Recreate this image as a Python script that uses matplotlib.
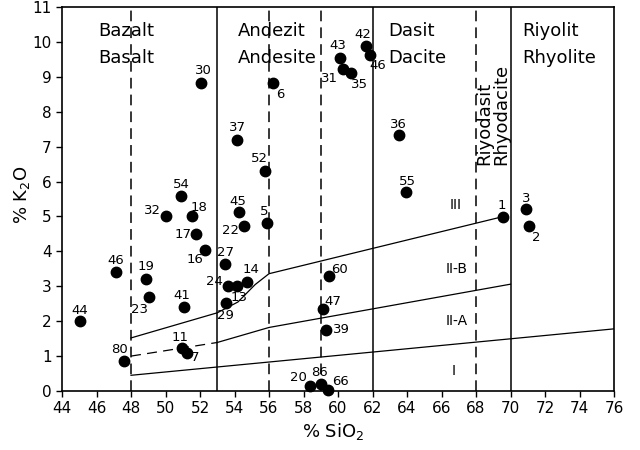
import matplotlib.pyplot as plt

# samples: id, % SiO2, % K2O
sample_ids = ["44", "46", "19", "23", "80", "41", "11", "7", "32", "54",
              "18", "17", "16", "30", "27", "24", "13", "14", "29", "45",
              "22", "37", "52", "5", "6", "43", "31", "35", "42", "46",
              "60", "47", "39", "20", "86", "66", "36", "55", "1", "3", "2"]
sio2 = [45.04, 47.13, 48.87, 49.06, 47.6, 51.05, 50.94, 51.23, 50.0, 50.9,
        51.55, 51.75, 52.3, 52.06, 53.47, 53.6, 54.16, 54.7, 53.5, 54.26,
        54.55, 54.16, 55.77, 55.87, 56.23, 60.1, 60.27, 60.75, 61.62, 61.86,
        59.5, 59.15, 59.3, 58.38, 59.0, 59.44, 63.52, 63.94, 69.55, 70.9, 71.09]
k2o = [2.0, 3.41, 3.22, 2.68, 0.85, 2.40, 1.23, 1.10, 5.0, 5.58,
       5.0, 4.51, 4.04, 8.83, 3.63, 3.01, 3.01, 3.13, 2.53, 5.12,
       4.72, 7.2, 6.31, 4.82, 8.83, 9.53, 9.22, 9.1, 9.87, 9.63,
       3.29, 2.34, 1.75, 0.15, 0.2, 0.03, 7.32, 5.69, 4.99, 5.2, 4.74]

# where each number sits relative to its dot (pixels, +y is up)
label_dx = [0, 0, 0, -10, -5, -2, -2, 8, -13, 0,
            7, -13, -10, 2, 0, -13, 2, 4, 0, -1,
            -13, 0, -6, -3, 7, -2, -13, 9, -3, 8,
            10, 9, 15, -12, -1, 12, 0, 1, -1, 0, 7]
label_dy = [11, 11, 12, -12, 12, 12, 11, -5, 6, 12,
            9, -1, -10, 12, 12, 4, -12, 12, -13, 11,
            -4, 12, 12, 11, -12, 13, -9, -11, 12, -11,
            7, 8, 0, 8, 12, 8, 11, 11, 11, 11, -12]

# field boundaries
solid_si = [53, 62, 70]
dashed_si = [48, 56, 59, 68]

line3_si = [48, 53, 54.2, 55.2, 56, 69.6]
line3_k = [1.52, 2.24, 2.55, 3.05, 3.36, 5.0]
line2_dash_si = [48, 53]
line2_dash_k = [1.0, 1.39]
line2_si = [53, 56, 70]
line2_k = [1.39, 1.82, 3.06]
line1_si = [48, 76]
line1_k = [0.45, 1.78]

fig = plt.figure(figsize=(6.4, 4.5), dpi=100)
ax = fig.add_axes([62 / 640, 1 - 391 / 450, 552 / 640, 384 / 450])

for s in solid_si:
    ax.plot([s, s], [0, 11], color="black", lw=1.1)
for s in dashed_si:
    ax.plot([s, s], [0, 11], color="black", lw=1.1, dashes=(7, 4))

ax.plot(line3_si, line3_k, color="black", lw=0.9)
ax.plot(line2_dash_si, line2_dash_k, color="black", lw=0.9, dashes=(8, 5))
ax.plot(line2_si, line2_k, color="black", lw=0.9)
ax.plot(line1_si, line1_k, color="black", lw=0.9)

ax.plot(sio2, k2o, "o", color="black", ms=7.5, clip_on=False, zorder=5)
px = 72 / fig.dpi
for sid, x, y, dx, dy in zip(sample_ids, sio2, k2o, label_dx, label_dy):
    ax.annotate(sid, (x, y), xytext=(dx * px, dy * px), textcoords="offset points",
                ha="center", va="center", fontsize=9.5)

# rock names
name_kw = dict(fontsize=13, va="center", ha="left")
ax.text(46.1, 10.32, "Bazalt", **name_kw)
ax.text(46.1, 9.54, "Basalt", **name_kw)
ax.text(54.2, 10.32, "Andezit", **name_kw)
ax.text(54.2, 9.54, "Andesite", **name_kw)
ax.text(62.9, 10.32, "Dasit", **name_kw)
ax.text(62.9, 9.54, "Dacite", **name_kw)
ax.text(70.7, 10.32, "Riyolit", **name_kw)
ax.text(70.7, 9.54, "Rhyolite", **name_kw)
ax.text(68.48, 6.48, "Riyodasit", fontsize=13, rotation=90, ha="center", va="bottom")
ax.text(69.49, 6.48, "Rhyodacite", fontsize=13, rotation=90, ha="center", va="bottom")

# series fields
ax.text(66.8, 5.34, "III", fontsize=10, ha="center", va="center")
ax.text(66.9, 3.5, "II-B", fontsize=10, ha="center", va="center")
ax.text(66.9, 2.0, "II-A", fontsize=10, ha="center", va="center")
ax.text(66.7, 0.57, "I", fontsize=10, ha="center", va="center")

ax.set_xlim(44, 76)
ax.set_ylim(0, 11)
ax.set_xticks(range(44, 77, 2))
ax.set_yticks(range(0, 12))
ax.tick_params(direction="out", length=4, width=1, labelsize=11)
for sp in ax.spines.values():
    sp.set_linewidth(1.2)

fig.text(333 / 640, 1 - 431 / 450, "% SiO$_2$", fontsize=13, ha="center", va="center")
fig.text(22 / 640, 1 - 195 / 450, "% K$_2$O", fontsize=13, rotation=90, ha="center", va="center")

fig.savefig("out.png", dpi=100)
